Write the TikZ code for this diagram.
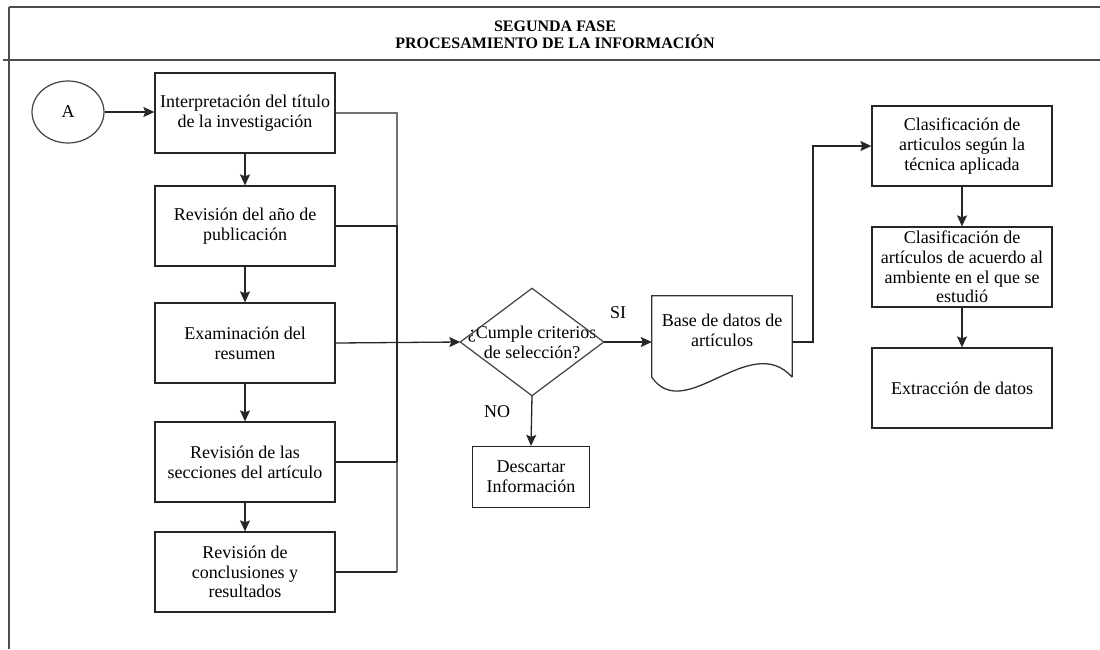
\documentclass[tikz,border=0pt]{standalone}
\usepackage{fontspec}
\setmainfont{Liberation Serif}
\usetikzlibrary{shapes.geometric,arrows.meta}
\tikzset{
  txt/.style={font=\fontsize{18}{19.8}\selectfont, align=center, inner sep=1pt},
  box/.style={txt, draw=black!85, line width=1.3pt, minimum width=180pt, minimum height=80pt},
  arr/.style={-{Stealth[length=11pt,width=10pt,inset=2pt]}, line width=1.3pt, draw=black!85},
  con/.style={line width=1.3pt, draw=black!85},
  conl/.style={line width=1.3pt, draw=black!55},
  frame/.style={line width=1.5pt, draw=black!70}
}
\begin{document}
\begin{tikzpicture}[x=1pt,y=-1pt]
\useasboundingbox (0,0) rectangle (1100,649);
% frame
\draw[frame] (9,7) -- (1100,7);
\draw[frame] (9,7) -- (9,649);
\draw[frame] (3,60) -- (1100,60);
\node[font=\bfseries\fontsize{16}{17}\selectfont, align=center] (title) at (555,35) {SEGUNDA FASE\\PROCESAMIENTO DE LA INFORMACIÓN};

% start
\node[ellipse, draw=black!75, line width=1.2pt, minimum width=72pt, minimum height=62pt, txt] (A) at (68,112) {A};

% left column
\node[box] (b1) at (245,113) {Interpretación del título\\de la investigación};
\node[box] (b2) at (245,226) {Revisión del año de\\publicación};
\node[box] (b3) at (245,343) {Examinación del\\resumen};
\node[box] (b4) at (245,462) {Revisión de las\\secciones del artículo};
\node[box] (b5) at (245,572) {Revisión de\\conclusiones y\\resultados};
\coordinate (bus) at (397,0);

% decision
\node[txt, minimum width=143pt, minimum height=107pt, inner sep=0pt] (dec) at (532,342) {¿Cumple criterios\\de selección?};
\draw[line width=1.2pt, draw=black!75] (dec.north) -- (dec.east) -- (dec.south) -- (dec.west) -- cycle;
\node[txt] (si) at (618,313) {SI};
\node[txt] (no) at (497,412) {NO};
\node[box, minimum width=117pt, minimum height=61pt] (desc) at (531,477) {Descartar\\Información};

% document
\node[minimum width=140pt, minimum height=81pt, inner sep=0pt] (db) at (722,336.5) {};
\draw[line width=1.3pt, draw=black!80] (db.south east) -- (db.north east) -- (db.north west) -- (db.south west)
  .. controls (685,425) and (750,330) .. (db.south east);
\node[txt] (dbt) at (722,330) {Base de datos de\\artículos};
\coordinate (j) at (813,0);

% right column
\node[box] (cA) at (962,146) {Clasificación de\\articulos según la\\técnica aplicada};
\node[box] (cB) at (962,267) {Clasificación de\\artículos de acuerdo al\\ambiente en el que se\\estudió};
\node[box] (cC) at (962,388) {Extracción de datos};

% connectors
\draw[arr] (A.east) -- (A.east -| b1.west);
\draw[arr] (b1.south) -- (b2.north);
\draw[arr] (b2.south) -- (b3.north);
\draw[arr] (b3.south) -- (b4.north);
\draw[arr] (b4.south) -- (b5.north);
\draw[conl] (b1.east) -- (b1.east -| bus) -- (b2.east -| bus);
\draw[con] (b2.east) -- (b2.east -| bus) -- (b4.east -| bus);
\draw[conl] (b4.east -| bus) -- (b5.east -| bus);
\draw[con] (b4.east) -- (b4.east -| bus);
\draw[con] (b5.east) -- (b5.east -| bus);
\draw[arr] (b3.east) -- (dec.west);
\draw[arr] (dec.east) -- (dec.east -| db.west);
\draw[arr] (dec.south) -- (desc.north);
\draw[arr] (db.east |- dec.east) -- (j |- dec.east) |- (cA.west);
\draw[arr] (cA.south) -- (cB.north);
\draw[arr] (cB.south) -- (cC.north);
\end{tikzpicture}
\end{document}
